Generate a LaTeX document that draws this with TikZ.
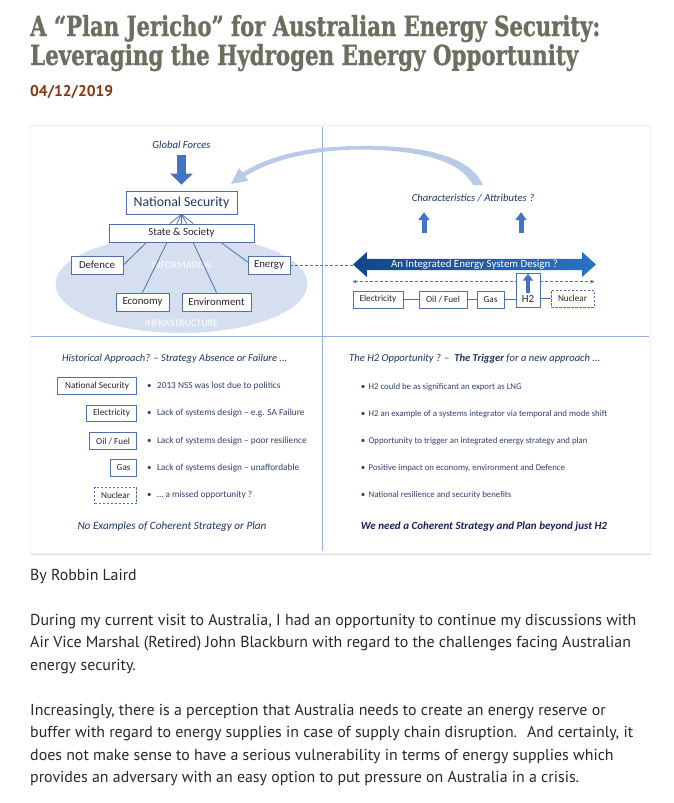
\documentclass[tikz,border=0pt]{standalone}
\usepackage{graphicx}
\usepackage{fontspec}
\setmainfont{PT Sans}
\newfontfamily\figfont{Carlito}
\newfontfamily\headfont[BoldFeatures={FakeBold=1.2}]{DejaVu Serif}
\usetikzlibrary{arrows.meta,positioning,shapes.arrows,calc}

\definecolor{titlegrey}{RGB}{110,110,96}
\definecolor{datebrown}{RGB}{135,55,15}
\definecolor{bodytext}{RGB}{40,40,40}
\definecolor{navy}{RGB}{31,56,100}
\definecolor{bullnavy}{RGB}{52,64,112}
\definecolor{closenavy}{RGB}{25,35,90}
\definecolor{boxblue}{RGB}{79,111,173}
\definecolor{arrblue}{RGB}{68,114,196}
\definecolor{paleblue}{RGB}{213,223,240}
\definecolor{curveblue}{RGB}{184,202,232}
\definecolor{divblue}{RGB}{150,175,220}
\definecolor{iesdark}{RGB}{18,70,140}
\definecolor{ieslight}{RGB}{40,115,200}

\begin{document}
\begin{tikzpicture}[x=1pt,y=-1pt,
 box/.style={draw=boxblue,line width=0.8pt,fill=white,inner sep=0pt,text=black!85,
 font=\figfont\fontsize{10.8}{12}\selectfont},
 smallbox/.style={box,font=\figfont\fontsize{9.2}{10}\selectfont},
 dashbox/.style={smallbox,dash pattern=on 2.5pt off 1.5pt},
 link/.style={draw=boxblue,line width=0.8pt},
 dashlink/.style={draw=arrblue,line width=0.8pt,dash pattern=on 3pt off 2pt},
 headit/.style={inner sep=1pt,text=navy,font=\figfont\itshape\fontsize{10.7}{12}\selectfont},
 bullet/.style={inner sep=0pt,text=bullnavy,font=\figfont\fontsize{9}{10}\selectfont},
 bullettxt/.style={bullet,anchor=west},
 fatarr/.style={draw=arrblue,line width=9pt,-{Triangle[width=22pt,length=11pt]}},
 uparr/.style={draw=arrblue,line width=5pt,-{Triangle[width=11pt,length=8pt]}},
 bodyline/.style={anchor=base west,inner sep=0pt,text=bodytext,font=\fontsize{15.9}{18}\selectfont}]
\useasboundingbox (0,0) rectangle (674,803);

% page heading
\node[anchor=base west,inner sep=0pt,text=titlegrey] (title1) at (30,36)
 {\resizebox{570pt}{21pt}{\headfont\bfseries A “Plan Jericho” for Australian Energy Security:}};
\node[anchor=base west,inner sep=0pt,text=titlegrey] (title2) at (30,65)
 {\resizebox{548pt}{21pt}{\headfont\bfseries Leveraging the Hydrogen Energy Opportunity}};
\node[anchor=base west,inner sep=0pt,text=datebrown,font=\bfseries\fontsize{15.5}{18}\selectfont] (date) at (30,96) {04/12/2019};

% figure frame and quadrants
\fill[black!12] (31,127) rectangle (651,555);
\filldraw[fill=white,draw=black!6] (30,125) rectangle (650,553);
\draw[divblue,line width=1pt] (322,127) -- (322,551);
\draw[divblue,line width=1pt] (31,336) -- (649,336);

% top left: national security tree
\fill[paleblue] (181.5,284) ellipse [x radius=126pt,y radius=49pt];
\node[inner sep=0pt,text=white,font=\figfont\fontsize{10}{11}\selectfont] (info) at (181.5,265) {INFORMATION};
\node[inner sep=0pt,text=white,font=\figfont\fontsize{10}{11}\selectfont] (infra) at (181.5,323) {INFRASTRUCTURE};

\node[headit] (gf) at (181.5,145) {Global Forces};
\node[box,minimum width=111pt,minimum height=23pt,text=navy,font=\figfont\fontsize{13.8}{15}\selectfont] (ns) at (181.5,202.5) {National Security};
\node[box,minimum width=145pt,minimum height=18pt] (ss) at (181.5,233) {State \& Society};
\node[box,minimum width=52pt,minimum height=18pt] (def) at (97,265) {Defence};
\node[box,minimum width=42pt,minimum height=18pt] (energy) at (269,265) {Energy};
\node[box,minimum width=53pt,minimum height=18pt] (econ) at (142.5,302) {Economy};
\node[box,minimum width=69pt,minimum height=18pt] (env) at (216.5,302) {Environment};

\draw[fatarr,shorten <=5pt,shorten >=6pt] (gf) -- (ns);
\foreach \f in {0.42,0.467,0.5,0.535,0.58}
 \draw[link] (ns.south) -- ($(ss.north west)!\f!(ss.north east)$);
\draw[link] ($(ss.south west)!0.26!(ss.south east)$) -- (def.east);
\draw[link] ($(ss.south west)!0.40!(ss.south east)$) -- (econ.north);
\draw[link] ($(ss.south west)!0.58!(ss.south east)$) -- (env.north);
\draw[link] ($(ss.south west)!0.77!(ss.south east)$) -- ([yshift=3pt]energy.west);

% curved feedback arrow
\fill[curveblue] (483,185) .. controls (470,155) and (420,145) .. (360,146)
 .. controls (310,146) and (270,155) .. (242.5,172.6) -- (239,168) -- (231,184)
 -- (248.6,180.8) -- (245.1,176.2) .. controls (272,160) and (310,150) .. (360,149.5)
 .. controls (418,150) and (460,160) .. (473,185) -- cycle;

% top right: integrated design
\node[headit] (chars) at (473,198) {Characteristics / Attributes ?};
\node[double arrow,double arrow head extend=6pt,double arrow tip angle=84,
 minimum height=243pt,minimum width=25pt,inner sep=0pt,left color=iesdark,right color=ieslight,
 text=white,font=\figfont\fontsize{10.9}{12}\selectfont] (ies) at (474.5,264.5) {An Integrated Energy System Design ?};
\coordinate (upl) at (424,233);
\coordinate (upr) at (521,233);
\draw[uparr,shorten >=9pt] (upl) -- (upl |- chars.south);
\draw[uparr,shorten >=9pt] (upr) -- (upr |- chars.south);
\draw[dashlink] (energy.east) -- (energy.east -| ies.west);

\node[smallbox,minimum width=50pt,minimum height=17pt] (elec) at (378,299.5) {Electricity};
\node[smallbox,minimum width=48pt,minimum height=17pt] (oil) at (443,299.5) {Oil / Fuel};
\node[smallbox,minimum width=27pt,minimum height=17pt] (gas) at (490.5,299.5) {Gas};
\node[dashbox,minimum width=43pt,minimum height=17pt] (nuc) at (572.5,298.5) {Nuclear};
\draw[dashlink,{Stealth[length=4pt,width=4pt]}-{Stealth[length=4pt,width=4pt]}]
 ([yshift=9pt]elec.north west) -- ([yshift=9pt]elec.north west -| nuc.north east);
\node[box,anchor=south,minimum width=24pt,text height=26pt,text depth=2.5pt,inner ysep=3pt] (h2) at (528,308) {H2};
\draw[uparr,line width=4.5pt,-{Triangle[width=10pt,length=7pt]},shorten >=1pt] ([yshift=9.5pt]h2.base) -- (h2.north);
\foreach \a/\b in {elec/oil,oil/gas}
 \draw[link] (\a) -- (\b);
\draw[link] (gas.east) -- (gas.east -| h2.west);
\draw[link] (nuc.west -| h2.east) -- (nuc.west);

% bottom left: historical approach
\node[headit,anchor=base west,font=\figfont\itshape\fontsize{10.5}{11}\selectfont] (histhead) at (61,361) {Historical Approach? – Strategy Absence or Failure ...};
\foreach \nm/\y/\w/\st/\lbl/\txt in {
 nsl/386/79/smallbox/National Security/2013 NSS was lost due to politics,
 elecl/413.5/50/smallbox/Electricity/Lack of systems design – e.g. SA Failure,
 oill/441/47/smallbox/{Oil / Fuel}/Lack of systems design – poor resilience,
 gasl/468/26/smallbox/Gas/Lack of systems design – unaffordable,
 nucl/495.5/42/dashbox/Nuclear/… a missed opportunity ?}
{
 \node[\st,anchor=east,minimum width=\w pt,minimum height=16.5pt] (\nm) at (137,\y) {\lbl};
 \node[bullet,right=10pt of \nm] (\nm b) {•};
 \node[bullettxt,right=5pt of \nm b,font=\figfont\fontsize{9.3}{10}\selectfont] (\nm t) {\txt};
}
\node[headit,font=\figfont\itshape\fontsize{11.2}{12}\selectfont] (noex) at (172,527) {No Examples of Coherent Strategy or Plan};

% bottom right: the H2 opportunity
\node[headit,anchor=base west,font=\figfont\itshape\fontsize{10.6}{11}\selectfont] (h2head) at (348,361) {The H2 Opportunity ? –~ \textbf{The Trigger} for a new approach ...};
\foreach \y/\txt in {
 387/H2 could be as significant an export as LNG,
 414/H2 an example of a systems integrator via temporal and mode shift,
 441/Opportunity to trigger an integrated energy strategy and plan,
 468/{Positive impact on economy, environment and Defence},
 495/National resilience and security benefits}
{
 \node[bullet] (rb\y) at (363,\y) {•};
 \node[bullettxt,right=3pt of rb\y,font=\figfont\fontsize{8.8}{10}\selectfont] (rt\y) {\txt};
}
\node[inner sep=1pt,text=closenavy,font=\figfont\bfseries\itshape\fontsize{11}{12}\selectfont] (weneed) at (484,527) {We need a Coherent Strategy and Plan beyond just H2};

% article text
\node[bodyline] (byline) at (30,580) {By Robbin Laird};
\foreach \nm/\y/\txt in {
 pa/625/{During my current visit to Australia, I had an opportunity to continue my discussions with},
 pb/647.5/Air Vice Marshal (Retired) John Blackburn with regard to the challenges facing Australian,
 pc/670/energy security.,
 pd/715/{Increasingly, there is a perception that Australia needs to create an energy reserve or},
 pe/737.5/{buffer with regard to energy supplies in case of supply chain disruption.~ And certainly, it},
 pf/760/does not make sense to have a serious vulnerability in terms of energy supplies which,
 pg/782.5/provides an adversary with an easy option to put pressure on Australia in a crisis.}
 \node[bodyline] (\nm) at (30,\y) {\txt};
\end{tikzpicture}
\end{document}
